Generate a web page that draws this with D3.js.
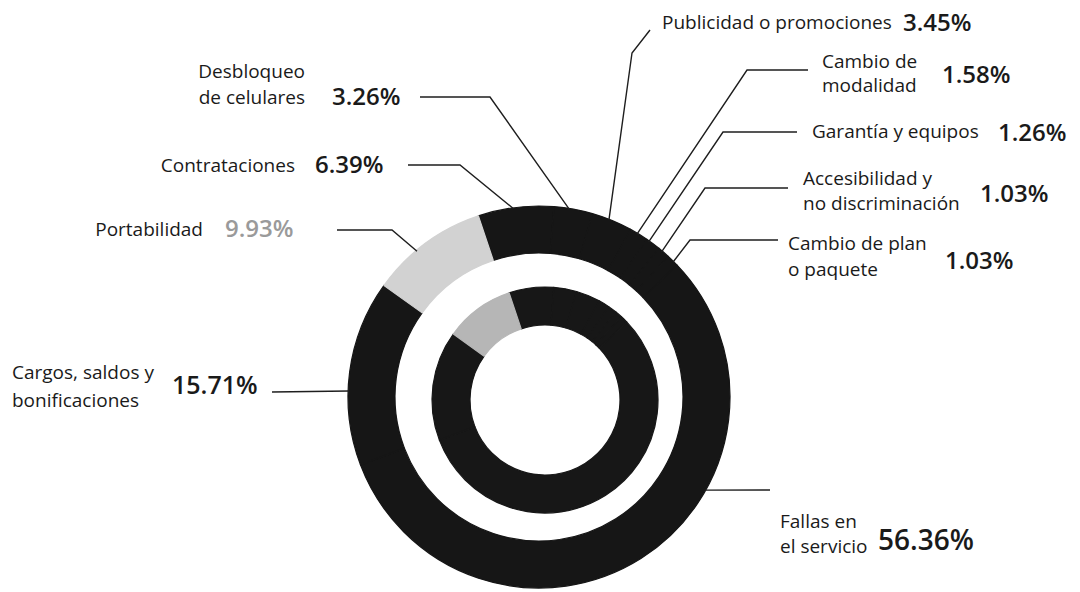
<!DOCTYPE html>
<html>
<head>
<meta charset="utf-8">
<script src="https://cdn.jsdelivr.net/npm/d3@7"></script>
<style>
  html, body { margin: 0; padding: 0; background: #fff; }
  svg { display: block; }
  text { font-family: "Open Sans", sans-serif; fill: #1a1a1a; }
</style>
</head>
<body>
<svg id="chart" width="1080" height="592"></svg>
<script>
// Complaint categories, clockwise from the top of the ring
const categories = [
  "Contrataciones",
  "Desbloqueo de celulares",
  "Publicidad o promociones",
  "Cambio de modalidad",
  "Garantía y equipos",
  "Accesibilidad y no discriminación",
  "Cambio de plan o paquete",
  "Fallas en el servicio",
  "Cargos, saldos y bonificaciones",
  "Portabilidad"
];
// Share of complaints (%)
const values = [6.39, 3.26, 3.45, 1.58, 1.26, 1.03, 1.03, 56.36, 15.71, 9.93];
// Label text, split into display lines
const labelLines = [
  ["Contrataciones"],
  ["Desbloqueo", "de celulares"],
  ["Publicidad o promociones"],
  ["Cambio de", "modalidad"],
  ["Garantía y equipos"],
  ["Accesibilidad y", "no discriminación"],
  ["Cambio de plan", "o paquete"],
  ["Fallas en", "el servicio"],
  ["Cargos, saldos y", "bonificaciones"],
  ["Portabilidad"]
];
const valueLabels = values.map(v => v.toFixed(2) + "%");

// ---- layout ----
const outer = { cx: 539, cy: 397, r0: 144, r1: 191 };
const inner = { cx: 545, cy: 400, r0: 75, r1: 113 };
const startAngle = -18.5 * Math.PI / 180;

// per-label placement: text block, value text, leader elbow points, anchor position within slice
const place = [
  { anchor: "end",   tx: 295, ty: [172],      vx: 315, vy: 173, vs: 24, leader: [[408,165],[460,165]], f: 0.47 },
  { anchor: "end",   tx: 305, ty: [78,104],   vx: 332, vy: 105, vs: 24, leader: [[420,97],[490,97]],   f: 0.40 },
  { anchor: "start", tx: 662, ty: [29],       vx: 903, vy: 31,  vs: 24, leader: [[650,30],[632,53]],   f: 0.43 },
  { anchor: "start", tx: 822, ty: [68,92],    vx: 942, vy: 83,  vs: 24, leader: [[808,70],[747,70]],   f: 0.42 },
  { anchor: "start", tx: 812, ty: [138],      vx: 998, vy: 141, vs: 24, leader: [[797,132],[723,132]], f: 0.20 },
  { anchor: "start", tx: 803, ty: [185,210],  vx: 980, vy: 202, vs: 24, leader: [[788,188],[705,188]], f: 0.35 },
  { anchor: "start", tx: 788, ty: [250,276],  vx: 945, vy: 269, vs: 24, leader: [[778,240],[690,240]], f: 0.60 },
  { anchor: "start", tx: 780, ty: [528,553],  vx: 878, vy: 550, vs: 28, leader: [[770,490]],           f: 0.36 },
  { anchor: "start", tx: 12,  ty: [379,407],  vx: 172, vy: 394, vs: 25, leader: [[272,392]],           f: 0.40 },
  { anchor: "end",   tx: 203, ty: [236],      vx: 225, vy: 237, vs: 24, leader: [[337,230],[392,230]], f: 0.40 }
];

const shade = d3.scaleOrdinal()
  .domain(categories)
  .range(categories.map(c => c === "Portabilidad" ? "#d2d2d2" : "#161616"));
const innerShade = d3.scaleOrdinal()
  .domain(categories)
  .range(categories.map(c => c === "Portabilidad" ? "#b6b6b6" : "#171717"));
const valueColor = c => c === "Portabilidad" ? "#9a9a9a" : "#1a1a1a";

const svg = d3.select("#chart");

const pie = d3.pie()
  .sort(null)
  .value(d => d.value)
  .startAngle(startAngle)
  .endAngle(startAngle + 2 * Math.PI);

const rows = categories.map((c, i) => ({ category: c, value: values[i], i }));
const arcs = pie(rows);

// outer ring (stroked in its own colour so neighbouring dark slices merge)
const outerArc = d3.arc().innerRadius(outer.r0).outerRadius(outer.r1);
svg.append("g")
  .attr("transform", `translate(${outer.cx},${outer.cy})`)
  .selectAll("path")
  .data(arcs)
  .join("path")
  .attr("d", outerArc)
  .attr("fill", d => shade(d.data.category))
  .attr("stroke", d => shade(d.data.category))
  .attr("stroke-width", 1.2)
  .attr("stroke-linejoin", "round");

// inner ring
const innerArc = d3.arc().innerRadius(inner.r0).outerRadius(inner.r1);
svg.append("g")
  .attr("transform", `translate(${inner.cx},${inner.cy})`)
  .selectAll("path")
  .data(arcs)
  .join("path")
  .attr("d", innerArc)
  .attr("fill", d => innerShade(d.data.category))
  .attr("stroke", d => innerShade(d.data.category))
  .attr("stroke-width", 1.2)
  .attr("stroke-linejoin", "round");

// leader lines from the outer ring edge to each label
const line = d3.line();
svg.append("g")
  .selectAll("path")
  .data(arcs)
  .join("path")
  .attr("fill", "none")
  .attr("stroke", "#1e1e1e")
  .attr("stroke-width", 1.4)
  .attr("d", d => {
    const p = place[d.data.i];
    const a = d.startAngle + p.f * (d.endAngle - d.startAngle);
    const r = outer.r1 - 1;
    const end = [outer.cx + r * Math.sin(a), outer.cy - r * Math.cos(a)];
    return line([...p.leader, end]);
  });

// category labels
const labels = svg.append("g")
  .selectAll("text")
  .data(arcs)
  .join("text")
  .attr("text-anchor", d => place[d.data.i].anchor)
  .style("font-size", "19px");
labels.selectAll("tspan")
  .data(d => labelLines[d.data.i].map((t, k) => ({ t, x: place[d.data.i].tx, y: place[d.data.i].ty[k] })))
  .join("tspan")
  .attr("x", d => d.x)
  .attr("y", d => d.y)
  .text(d => d.t);

// value labels
svg.append("g")
  .selectAll("text")
  .data(arcs)
  .join("text")
  .attr("x", d => place[d.data.i].vx)
  .attr("y", d => place[d.data.i].vy)
  .style("font-size", d => place[d.data.i].vs + "px")
  .style("font-weight", 600)
  .style("fill", d => valueColor(d.data.category))
  .text(d => valueLabels[d.data.i]);
</script>
</body>
</html>
